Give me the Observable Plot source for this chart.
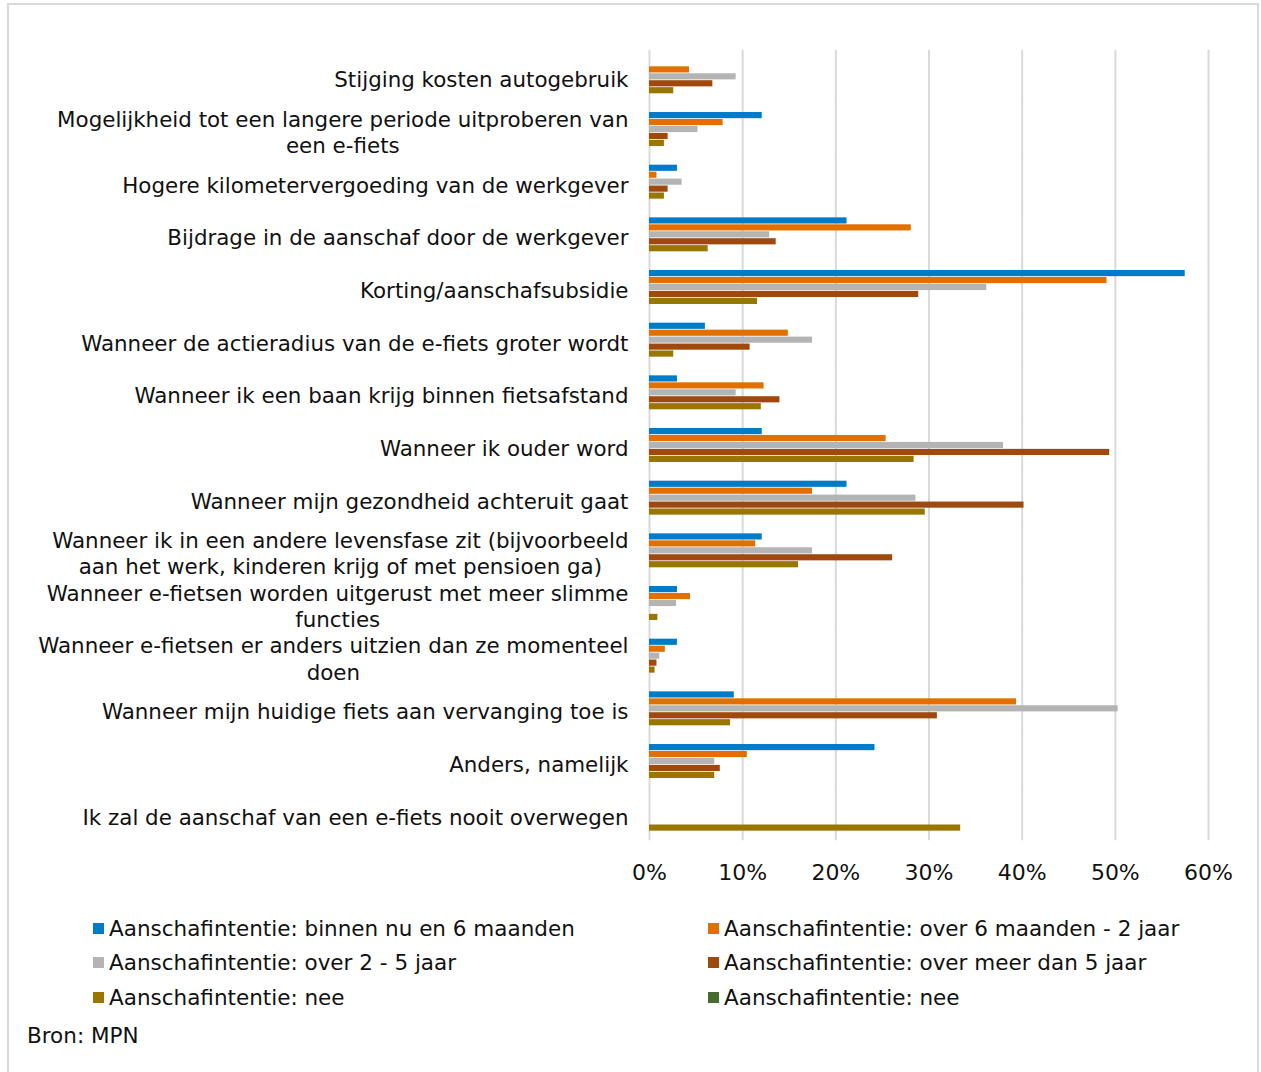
<!DOCTYPE html>
<html lang="nl">
<head>
<meta charset="utf-8">
<script src="https://cdn.jsdelivr.net/npm/d3@7"></script>
<script src="https://cdn.jsdelivr.net/npm/@observablehq/plot@0.6"></script>
<style>
  html, body { margin: 0; padding: 0; background: #fff; }
  body { width: 1261px; height: 1072px; position: relative; overflow: hidden;
         font-family: "DejaVu Sans", Verdana, sans-serif; color: #111; }
  #frame { position: absolute; left: 7px; top: 3px; width: 1252px; height: 1100px;
           border: 2px solid #d9d9d9; box-sizing: border-box; }
  #chart { position: absolute; left: 0; top: 0; }
  .legend-item { position: absolute; display: flex; align-items: center; height: 28px;
                 font-size: 21.5px; white-space: nowrap; }
  .legend-swatch { width: 11px; height: 11px; margin-right: 5px; flex: none; }
  #source { position: absolute; left: 27px; top: 1022px; font-size: 21.5px; line-height: 28px; }
</style>
</head>
<body>
<div id="frame"></div>
<div id="chart"></div>
<div id="legend"></div>
<div id="source">Bron: MPN</div>
<script>
// Redenen om een e-fiets aan te schaffen, per aanschafintentie (% respondenten)
const categories = [
  "Stijging kosten autogebruik",
  "Mogelijkheid tot een langere periode uitproberen van\neen e-fiets",
  "Hogere kilometervergoeding van de werkgever",
  "Bijdrage in de aanschaf door de werkgever",
  "Korting/aanschafsubsidie",
  "Wanneer de actieradius van de e-fiets groter wordt",
  "Wanneer ik een baan krijg binnen fietsafstand",
  "Wanneer ik ouder word",
  "Wanneer mijn gezondheid achteruit gaat",
  "Wanneer ik in een andere levensfase zit (bijvoorbeeld\naan het werk, kinderen krijg of met pensioen ga)",
  "Wanneer e-fietsen worden uitgerust met meer slimme\nfuncties",
  "Wanneer e-fietsen er anders uitzien dan ze momenteel\ndoen",
  "Wanneer mijn huidige fiets aan vervanging toe is",
  "Anders, namelijk",
  "Ik zal de aanschaf van een e-fiets nooit overwegen"
];

const seriesNames = [
  "Aanschafintentie: binnen nu en 6 maanden",
  "Aanschafintentie: over 6 maanden - 2 jaar",
  "Aanschafintentie: over 2 - 5 jaar",
  "Aanschafintentie: over meer dan 5 jaar",
  "Aanschafintentie: nee"
];

const binnen6Maanden  = [null, 12.1, 3.0, 21.2, 57.5, 6.0, 3.0, 12.1, 21.2, 12.1, 3.0, 3.0, 9.1, 24.2, null];
const over6mTot2Jaar  = [4.3, 7.9, 0.8, 28.1, 49.1, 14.9, 12.3, 25.4, 17.5, 11.4, 4.4, 1.7, 39.4, 10.5, null];
const over2Tot5Jaar   = [9.3, 5.2, 3.5, 12.9, 36.2, 17.5, 9.3, 38.0, 28.6, 17.5, 2.9, 1.1, 50.3, 7.0, null];
const overMeerDan5    = [6.8, 2.0, 2.0, 13.6, 28.9, 10.8, 14.0, 49.4, 40.2, 26.1, null, 0.8, 30.9, 7.6, null];
const geenIntentie    = [2.6, 1.6, 1.6, 6.3, 11.6, 2.6, 12.0, 28.4, 29.6, 16.0, 0.9, 0.6, 8.7, 7.0, 33.4];

const seriesColors = ["#007BC7", "#E17000", "#B4B4B4", "#A0490E", "#987600"];

// Legend entries as shown under the chart (two columns)
const legendNames = [...seriesNames, "Aanschafintentie: nee"];
const legendColors = [...seriesColors, "#466B2C"];

const xTicks = [0, 10, 20, 30, 40, 50, 60];

// Long-form table for the bars
const seriesValues = [binnen6Maanden, over6mTot2Jaar, over2Tot5Jaar, overMeerDan5, geenIntentie];
const rows = [];
categories.forEach((category, i) => {
  seriesNames.forEach((series, s) => {
    const value = seriesValues[s][i];
    if (value != null) rows.push({category, series, value});
  });
});

const height = 900;
const plot = Plot.plot({
  width: 1261,
  height,
  marginLeft: 649,
  marginRight: 53,
  marginTop: 50,
  marginBottom: height - 840,
  style: {fontFamily: "'DejaVu Sans', Verdana, sans-serif", fontSize: "21px", color: "#111", background: "transparent"},
  x: {domain: [0, 60]},
  fy: {domain: categories, paddingInner: 0.34, paddingOuter: 0.17, round: false, label: null},
  y: {domain: seriesNames, axis: null, padding: 0, round: false},
  color: {domain: seriesNames, range: seriesColors},
  marks: [
    // vertical gridlines, stretched over the gaps between category groups
    Plot.ruleX(xTicks, {stroke: "#d9d9d9", strokeWidth: 2, insetTop: -9.2, insetBottom: -9.2}),
    Plot.barX(rows, {fy: "category", y: "series", x: "value", fill: "series", insetTop: 0.4, insetBottom: 0.4}),
    Plot.axisX(xTicks, {tickSize: 0, tickPadding: 33, fontSize: 22, tickFormat: d => d + "%", label: null}),
    Plot.axisFy({anchor: "left", tickSize: 0, tickPadding: 21, fontSize: 21.4, lineHeight: 1.22, dy: 2, label: null})
  ]
});
document.getElementById("chart").append(plot);

// Wrapped category labels: lines centred on each other, block right-aligned
plot.querySelectorAll('g[aria-label="fy-axis tick label"] text').forEach(t => {
  const spans = t.querySelectorAll("tspan");
  if (spans.length < 2) return;
  const w = t.getBBox().width;
  t.setAttribute("text-anchor", "middle");
  spans.forEach(s => {
    const x0 = +(s.getAttribute("x") || 0);
    s.setAttribute("x", x0 - w / 2);
  });
});

// Legend
const legend = document.getElementById("legend");
legendNames.forEach((name, i) => {
  const col = i % 2, row = Math.floor(i / 2);
  const item = document.createElement("div");
  item.className = "legend-item";
  item.style.left = (col ? 708 : 93) + "px";
  item.style.top = (914 + row * 34.5) + "px";
  const sw = document.createElement("span");
  sw.className = "legend-swatch";
  sw.style.background = legendColors[i];
  const label = document.createElement("span");
  label.textContent = name;
  item.append(sw, label);
  legend.append(item);
});
</script>
</body>
</html>
